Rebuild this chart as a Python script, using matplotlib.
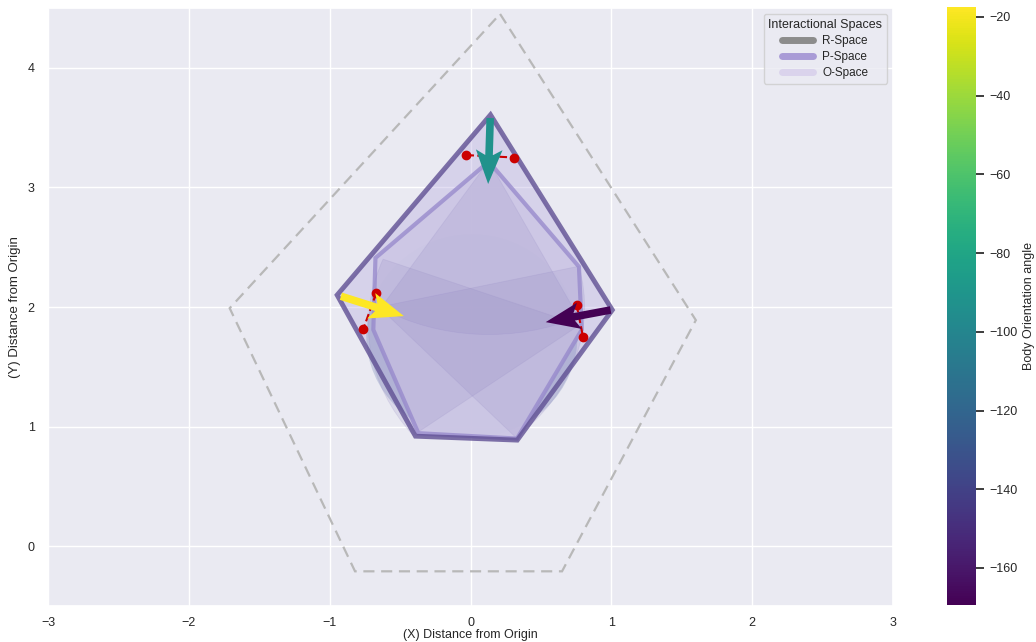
import numpy as np
import matplotlib
matplotlib.use('Agg')
import matplotlib.pyplot as plt
from matplotlib.patches import Polygon, Wedge, Ellipse
from matplotlib.lines import Line2D
import seaborn as sns

# people: top, left, right
person_x = [0.14, -0.92, 0.995]
person_y = [3.58, 2.09, 1.975]
body_angle = [-91.8, -17.5, -169.4]

# shoulders (left / right point for every person)
shoulder_ax = [-0.03, -0.67, 0.753]
shoulder_ay = [3.27, 2.115, 2.02]
shoulder_bx = [0.31, -0.76, 0.80]
shoulder_by = [3.25, 1.82, 1.745]

# transactional segments of each person
segment_cx = [0.13, -0.65, 0.775]
segment_cy = [3.22, 2.00, 1.85]
segment_radius = [1.45, 1.46, 1.50]
segment_theta1 = [-122.0, -48.3, 158.5]
segment_theta2 = [-64.0, 13.5, 218.0]

# r-space (dashed)
r_space_x = [0.21, 1.60, 0.65, -0.82, -1.71]
r_space_y = [4.45, 1.89, -0.21, -0.21, 1.99]

# p-space outline (outer) and o-space hull (inner)
p_space_x = [0.142, 1.007, 0.332, -0.391, -0.947]
p_space_y = [3.607, 1.975, 0.887, 0.92, 2.10]
o_space_x = [0.13, 0.77, 0.79, 0.33, -0.37, -0.69, -0.675]
o_space_y = [3.216, 2.337, 1.81, 0.90, 0.945, 1.81, 2.41]

# o-space circle
o_center = (0.01, 1.76)
o_width = 1.50
o_height = 1.70


sns.set_theme(style='darkgrid')
plt.rcParams['font.family'] = ['Liberation Sans', 'DejaVu Sans']

fig = plt.figure(figsize=(10.36, 6.42), dpi=100)
ax = fig.add_axes([48 / 1036, 36 / 642, 845 / 1036, 598 / 642])
cax = fig.add_axes([947 / 1036, 37 / 642, 29 / 1036, 598 / 642])

# r-space
ax.add_patch(Polygon(list(zip(r_space_x, r_space_y)), closed=True, fill=False,
                     edgecolor='#b8b8b8', lw=1.6, ls=(0, (5, 3)), zorder=2))

# p-space outer
ax.add_patch(Polygon(list(zip(p_space_x, p_space_y)), closed=True,
                     facecolor='#b9aee0', alpha=0.4, edgecolor='none', zorder=2))

# o-space circle, mostly hidden behind the hull
ax.add_patch(Ellipse(o_center, o_width, o_height, facecolor='#8e9cc4',
                     alpha=0.4, edgecolor='none', zorder=3))

# inner hull
ax.add_patch(Polygon(list(zip(o_space_x, o_space_y)), closed=True,
                     facecolor='#cdc7e5', alpha=0.95, edgecolor='none', zorder=3))

# transactional segments
for cx, cy, r, t1, t2 in zip(segment_cx, segment_cy, segment_radius,
                             segment_theta1, segment_theta2):
    ax.add_patch(Wedge((cx, cy), r, t1, t2, facecolor='#8d82bf', alpha=0.17,
                       edgecolor='#8d82bf', lw=0.6, zorder=4))

ax.add_patch(Polygon(list(zip(o_space_x, o_space_y)), closed=True, fill=False,
                     edgecolor='#9587cb', alpha=0.75, lw=3, zorder=5))
ax.add_patch(Polygon(list(zip(p_space_x, p_space_y)), closed=True, fill=False,
                     edgecolor='#5f4f93', alpha=0.8, lw=3.5, joinstyle='miter',
                     zorder=6))

# shoulders
for xa, ya, xb, yb in zip(shoulder_ax, shoulder_ay, shoulder_bx, shoulder_by):
    ax.plot([xa, xb], [ya, yb], '--', color='#cc0000', lw=1.5, zorder=7)
    ax.plot([xa, xb], [ya, yb], 'o', color='#cc0000', ms=6, zorder=8)

# body orientation arrows
u = np.cos(np.radians(body_angle))
v = np.sin(np.radians(body_angle))
q = ax.quiver(person_x, person_y, u, v, body_angle, cmap='viridis',
              angles='uv', scale_units='width', scale=845 / 66,
              width=0.009, headwidth=3.5, headlength=4.5,
              headaxislength=3.8, zorder=9)

ax.set_xlim(-3, 3)
ax.set_ylim(-0.5, 4.5)
ax.set_xlabel('(X) Distance from Origin', fontsize=9, labelpad=0)
ax.set_ylabel('(Y) Distance from Origin', fontsize=9.5, labelpad=5)
ax.tick_params(labelsize=9)
ax.tick_params(axis='x', pad=2)

handles = [Line2D([0], [0], color='#8c8c8c', lw=5, solid_capstyle='round'),
           Line2D([0], [0], color='#a99bd6', lw=5, solid_capstyle='round'),
           Line2D([0], [0], color='#dad3ec', lw=5, solid_capstyle='round')]
ax.legend(handles, ['R-Space', 'P-Space', 'O-Space'], title='Interactional Spaces',
          loc='upper right', fontsize=8.5, title_fontsize=9, handlelength=2.6,
          labelspacing=0.35)

cb = fig.colorbar(q, cax=cax)
cb.set_label('Body Orientation angle', fontsize=9)
cb.ax.tick_params(labelsize=9)
cb.outline.set_visible(False)

fig.savefig('out.png', dpi=100)
